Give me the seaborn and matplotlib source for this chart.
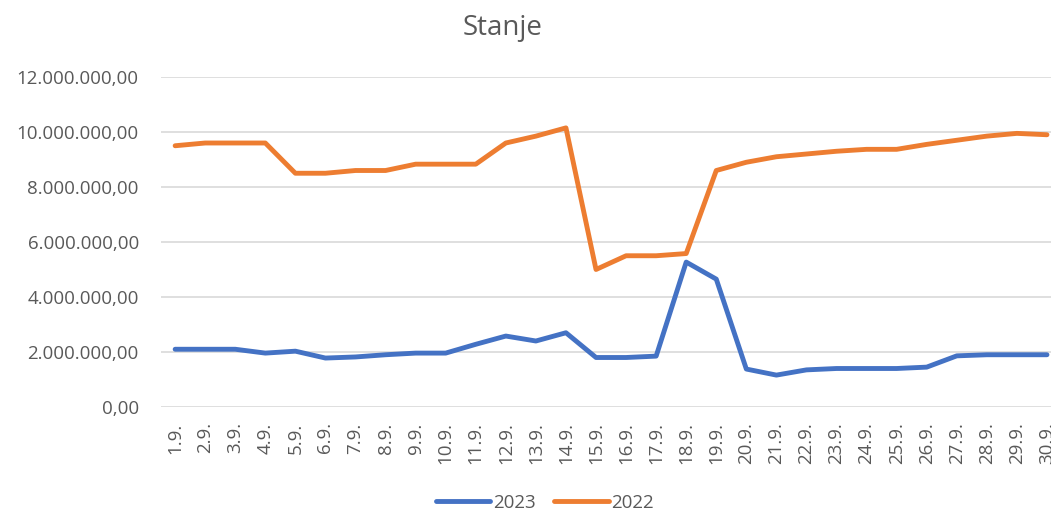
import matplotlib
matplotlib.use('Agg')
import matplotlib.pyplot as plt
import pandas as pd
import seaborn as sns

# Values
days = [f'{d}.9.' for d in range(1, 31)]
stanje_2023 = [2.10, 2.10, 2.10, 1.96, 2.03, 1.78, 1.82, 1.90, 1.96, 1.96,
               2.28, 2.58, 2.40, 2.70, 1.80, 1.80, 1.85, 5.27, 4.65, 1.38,
               1.16, 1.35, 1.40, 1.40, 1.40, 1.45, 1.86, 1.90, 1.90, 1.90]
stanje_2022 = [9.50, 9.60, 9.60, 9.60, 8.50, 8.50, 8.60, 8.60, 8.83, 8.83,
               8.83, 9.60, 9.85, 10.15, 5.00, 5.50, 5.50, 5.58, 8.60, 8.90,
               9.10, 9.20, 9.30, 9.37, 9.37, 9.55, 9.70, 9.85, 9.95, 9.90]
y_ticks = [0, 2e6, 4e6, 6e6, 8e6, 10e6, 12e6]

df = pd.DataFrame({'dan': list(range(len(days))) * 2,
                   'stanje': [v * 1e6 for v in stanje_2023 + stanje_2022],
                   'godina': ['2023'] * len(days) + ['2022'] * len(days)})

sns.set_style('white')
plt.rcParams['font.family'] = ['Open Sans', 'DejaVu Sans']

fig = plt.figure(figsize=(10.51, 5.13), dpi=100)
ax = fig.add_axes([161 / 1051, (513 - 407) / 513, (1062 - 161) / 1051, 330 / 513])

sns.lineplot(data=df, x='dan', y='stanje', hue='godina', ax=ax,
             palette={'2023': '#4472C4', '2022': '#ED7D31'},
             linewidth=3.5, legend=False)

ax.set_xlim(-0.47, 29.5)
ax.set_ylim(0, 12e6)
ax.set_yticks(y_ticks)
ax.set_yticklabels([f'{int(v):,}'.replace(',', '.') + ',00' for v in y_ticks])
ax.set_xticks(range(len(days)))
ax.set_xticklabels(days, rotation=90)
ax.tick_params(axis='both', colors='#595959', labelsize=13.5, length=0)
ax.tick_params(axis='y', pad=16)
ax.tick_params(axis='x', pad=11)
ax.grid(axis='y', color='#d9d9d9', linewidth=1.2)
ax.set_axisbelow(True)
for s in ax.spines.values():
    s.set_visible(False)
ax.set_xlabel('')
ax.set_ylabel('')

fig.text(503 / 1051, 1 - 28 / 513, 'Stanje', ha='center', va='center',
         fontsize=20, color='#595959')

handles = [plt.Line2D([], [], color='#4472C4', linewidth=3.5),
           plt.Line2D([], [], color='#ED7D31', linewidth=3.5)]
fig.legend(handles, ['2023', '2022'], loc='center', ncol=2,
           bbox_to_anchor=(545 / 1051, 1 - 503 / 513), frameon=False,
           fontsize=13.5, labelcolor='#595959', handlelength=2.9,
           handletextpad=0.15, columnspacing=1.0)

fig.savefig('out.png', dpi=100)
